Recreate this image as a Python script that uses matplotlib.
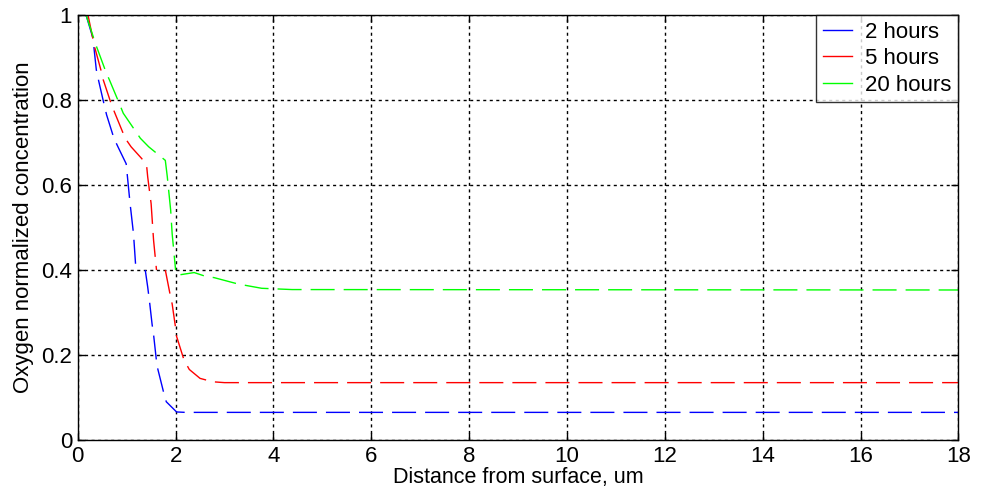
import matplotlib
matplotlib.use("Agg")
import matplotlib.pyplot as plt
import numpy as np
from matplotlib.ticker import FuncFormatter

plt.rcParams["font.family"] = ["Liberation Sans", "DejaVu Sans"]

# depth profiles (x in um, y normalized)
x_2h = [0.17, 0.31, 0.38, 0.43, 0.54, 0.59, 0.74, 0.83, 0.99, 1.03, 1.07, 1.09, 1.14, 1.19,
        1.38, 1.43, 1.47, 1.52, 1.55, 1.61, 1.63, 1.76, 1.81, 2.02, 2.2, 18.0]
y_2h = [1.0, 0.946, 0.871, 0.844, 0.789, 0.765, 0.71, 0.688, 0.65, 0.603, 0.556, 0.536, 0.485, 0.40,
        0.40, 0.36, 0.323, 0.272, 0.248, 0.185, 0.17, 0.11, 0.09, 0.066, 0.065, 0.065]

x_5h = [0.21, 0.34, 0.48, 0.52, 0.69, 0.76, 0.97, 1.09, 1.31, 1.41, 1.43, 1.50, 1.55, 1.61,
        1.79, 1.88, 1.93, 2.0, 2.02, 2.17, 2.28, 2.5, 2.76, 3.0, 18.0]
y_5h = [1.0, 0.927, 0.868, 0.848, 0.789, 0.769, 0.71, 0.69, 0.662, 0.643, 0.619, 0.556, 0.47, 0.40,
        0.40, 0.347, 0.32, 0.264, 0.244, 0.189, 0.166, 0.145, 0.137, 0.135, 0.135]

x_20h = [0.17, 0.38, 0.57, 0.66, 0.86, 0.93, 1.28, 1.45, 1.79, 1.83, 1.90, 1.93, 1.95, 2.0,
         2.1, 2.38, 2.59, 2.79, 3.28, 3.76, 4.38, 18.0]
y_20h = [1.0, 0.927, 0.868, 0.844, 0.789, 0.769, 0.71, 0.69, 0.658, 0.62, 0.54, 0.485, 0.461, 0.40,
         0.389, 0.394, 0.386, 0.382, 0.367, 0.357, 0.354, 0.353]

labels = ["2 hours", "5 hours", "20 hours"]
colors = ["#0000ff", "#ff0000", "#00ff00"]
# index of the last point before the dash gap at y = 0.4
gap_at = [13, 13, 13]

fig = plt.figure(figsize=(9.84, 4.93), dpi=100)
ax = fig.add_axes([0.079, 0.1075, 0.895, 0.862])

for xs, ys, lab, c, g in zip([x_2h, x_5h, x_20h], [y_2h, y_5h, y_20h], labels, colors, gap_at):
    ln, = ax.plot(xs[:g + 1], ys[:g + 1], color=c, lw=1.0, label=lab)
    ln.set_dashes((17.3, 6.5))
    ln2, = ax.plot(xs[g + 1:], ys[g + 1:], color=c, lw=1.0)
    ln2.set_dashes((17.3, 6.5))

ax.set_xlim(0, 18)
ax.set_ylim(0, 1)
ax.set_xticks(np.arange(0, 19, 2))
ax.set_yticks([0, 0.2, 0.4, 0.6, 0.8, 1.0])
ax.yaxis.set_major_formatter(FuncFormatter(lambda v, p: "%g" % v))
ax.grid(True, color="black", lw=1.0, linestyle=(0, (2.2, 2.5)))
ax.tick_params(direction="in", top=True, right=True, labelsize=16, length=5, width=1, pad=4)
for s in ax.spines.values():
    s.set_linewidth(1.0)

ax.set_xlabel("Distance from surface, um", fontsize=15.5, labelpad=0)
ax.set_ylabel("Oxygen normalized concentration", fontsize=16, labelpad=5)

leg = ax.legend(loc="upper right", fontsize=16, frameon=True, fancybox=False,
                borderaxespad=0, handlelength=1.3, borderpad=0.3, labelspacing=0.25,
                handletextpad=0.6)
leg.get_frame().set_edgecolor("black")
leg.get_frame().set_linewidth(1.0)
for h in leg.get_lines():
    h.set_linestyle("-")

fig.savefig("out.png", dpi=100)
